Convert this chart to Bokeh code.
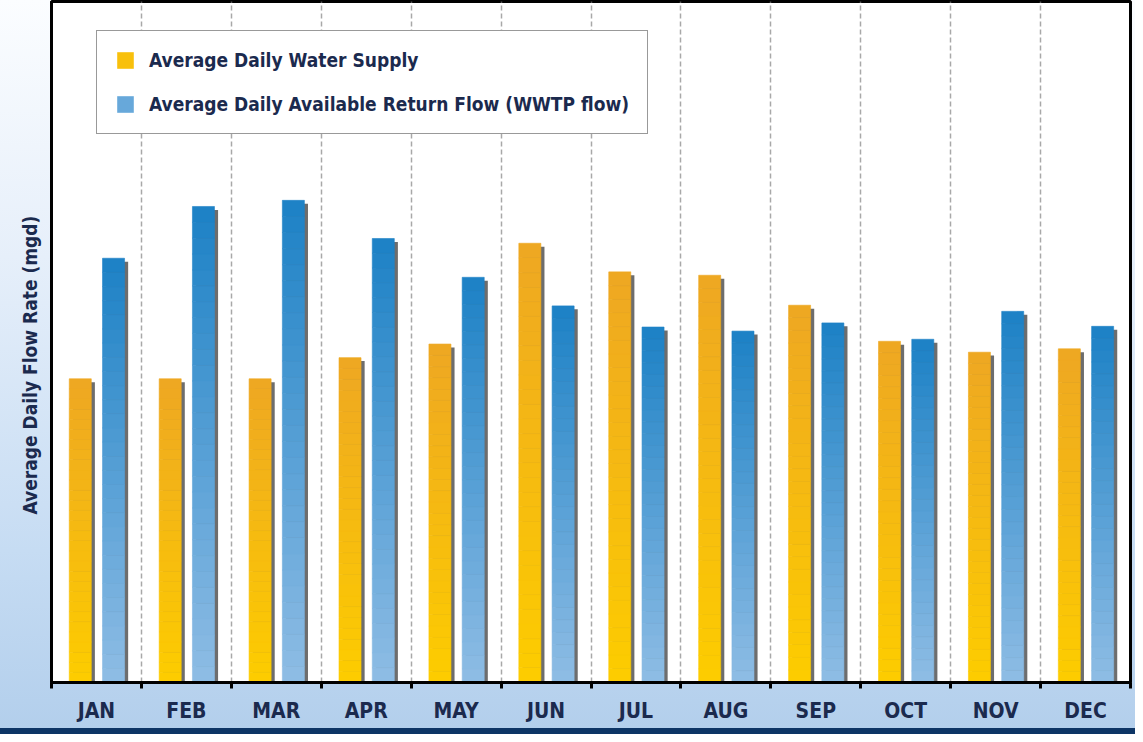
from bokeh.plotting import figure
from bokeh.models import Range1d, FixedTicker, ColumnDataSource, Legend, LegendItem, Title
from bokeh.embed import file_html
from bokeh.resources import INLINE

# ---------------- data ----------------
months = ["JAN", "FEB", "MAR", "APR", "MAY", "JUN", "JUL", "AUG", "SEP", "OCT", "NOV", "DEC"]
water_supply = [4.46, 4.46, 4.46, 4.77, 4.97, 6.45, 6.03, 5.98, 5.54, 5.01, 4.85, 4.90]
return_flow = [6.23, 6.99, 7.08, 6.52, 5.95, 5.53, 5.22, 5.16, 5.28, 5.04, 5.45, 5.23]
series_names = ["Average Daily Water Supply", "Average Daily Available Return Flow (WWTP flow)"]
y_title = "Average Daily Flow Rate (mgd)"

# ---------------- style ----------------
NAVY = "#1b2a4e"
FONT = "'DejaVu Sans Condensed', Roboto"
YELLOW_TOP, YELLOW_BOT = (238, 168, 34), (253, 204, 0)
BLUE_TOP, BLUE_BOT = (30, 130, 198), (141, 188, 228)
BAR_W = 0.245
OFFSETS = [-0.18, 0.19]
N_SLICES = 30

p = figure(width=1135, height=734, output_backend="svg", toolbar_location=None,
           x_range=Range1d(0, 12), y_range=Range1d(0, 10),
           min_border_left=51, min_border_right=5, min_border_top=1, min_border_bottom=52)
p.border_fill_color = None
p.background_fill_color = "white"
p.styles = {"background": "linear-gradient(to bottom, #fbfdff 0%, #e6effa 35%, #c6dcf3 75%, "
                          "#b3cfec 99.2%, #0d3565 99.2%, #0d3565 100%)"}
p.outline_line_color = "black"
p.outline_line_width = 3


def hexc(c):
    return "#%02x%02x%02x" % tuple(int(round(v)) for v in c)


def grad_source(values, offset, c_top, c_bot):
    xs, bots, tops, cols = [], [], [], []
    for i, v in enumerate(values):
        for k in range(N_SLICES):
            t = k / (N_SLICES - 1)
            col = [c_bot[j] + (c_top[j] - c_bot[j]) * t for j in range(3)]
            xs.append(i + 0.5 + offset)
            bots.append(v * k / N_SLICES)
            tops.append(v * (k + 1) / N_SLICES)
            cols.append(hexc(col))
    return ColumnDataSource(dict(x=xs, bottom=bots, top=tops, color=cols))


renderers = []
for vals, off, ct, cb in [(water_supply, OFFSETS[0], YELLOW_TOP, YELLOW_BOT),
                          (return_flow, OFFSETS[1], BLUE_TOP, BLUE_BOT)]:
    # drop shadow
    sh = ColumnDataSource(dict(x=[i + 0.5 + off + 0.04 for i in range(len(vals))],
                               top=[v - 0.05 for v in vals]))
    p.vbar(x="x", top="top", bottom=0, width=BAR_W, source=sh,
           fill_color="#1e1e1e", fill_alpha=0.65, line_color=None)
    src = grad_source(vals, off, ct, cb)
    r = p.vbar(x="x", bottom="bottom", top="top", width=BAR_W, source=src,
               fill_color="color", line_color="color", line_width=0.6)
    renderers.append(r)

# axes
xa = p.xaxis[0]
xa.ticker = FixedTicker(ticks=[i + 0.5 for i in range(12)], minor_ticks=list(range(13)))
xa.major_label_overrides = {i + 0.5: m for i, m in enumerate(months)}
xa.major_tick_line_color = None
xa.major_tick_out = 0
xa.major_tick_in = 0
xa.minor_tick_line_color = "black"
xa.minor_tick_line_width = 3
xa.minor_tick_out = 6
xa.minor_tick_in = 0
xa.axis_line_color = "black"
xa.axis_line_width = 3
xa.major_label_standoff = 10
xa.major_label_text_font = FONT
xa.major_label_text_font_style = "bold"
xa.major_label_text_font_size = "21px"
xa.major_label_text_color = NAVY

ya = p.yaxis[0]
ya.ticker = FixedTicker(ticks=[])
ya.major_tick_line_color = None
ya.minor_tick_line_color = None
ya.major_tick_out = 0
ya.major_label_standoff = 0
ya.axis_line_color = "black"
ya.axis_line_width = 3

ytitle = Title(text=y_title, align="left", offset=168, standoff=21,
               text_font=FONT, text_font_style="bold", text_font_size="19px",
               text_color=NAVY)
p.add_layout(ytitle, "left")

p.xgrid.ticker = FixedTicker(ticks=list(range(1, 12)))
p.xgrid.grid_line_color = "#a8a8a8"
p.xgrid.grid_line_dash = "5 3"
p.xgrid.grid_line_width = 1.5
p.ygrid.grid_line_color = None

legend = Legend(items=[LegendItem(label=series_names[0], renderers=[renderers[0]], index=N_SLICES // 3),
                       LegendItem(label=series_names[1], renderers=[renderers[1]], index=N_SLICES // 3)],
                location=(45, 548))
legend.margin = 0
legend.padding = 18
legend.spacing = 22
legend.glyph_width = 20
legend.glyph_height = 20
legend.label_height = 22
legend.label_standoff = 14
legend.label_text_font = FONT
legend.label_text_font_style = "bold"
legend.label_text_font_size = "19px"
legend.label_text_color = NAVY
legend.border_line_color = "#333333"
legend.border_line_width = 1.5
legend.background_fill_color = "white"
legend.background_fill_alpha = 1
p.add_layout(legend)

open("out.html", "w").write(file_html(p, INLINE))
